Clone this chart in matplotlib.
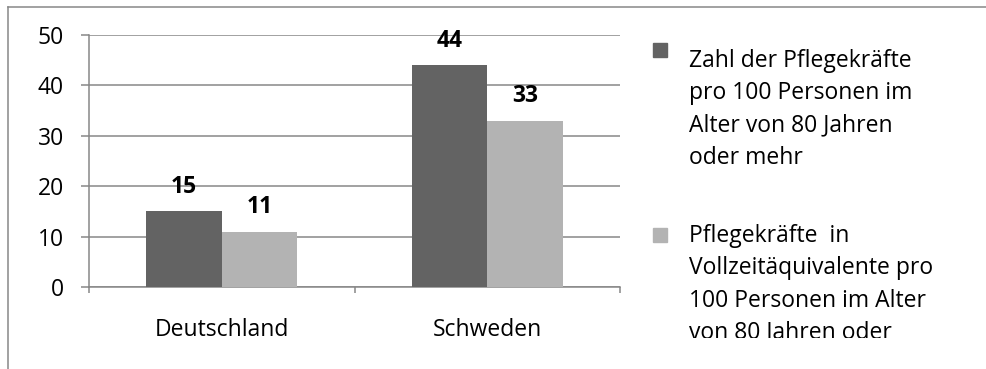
import numpy as np
import matplotlib
matplotlib.use("Agg")
import matplotlib.pyplot as plt
from matplotlib.patches import Rectangle

plt.rcParams['font.family'] = ['Open Sans', 'DejaVu Sans']

countries = ["Deutschland", "Schweden"]
pflegekraefte = [15, 44]          # Zahl der Pflegekräfte pro 100 Personen 80+
vollzeit = [11, 33]               # Pflegekräfte in Vollzeitäquivalenten
series_labels = [
    "Zahl der Pflegekräfte\npro 100 Personen im\nAlter von 80 Jahren\noder mehr",
    "Pflegekräfte  in\nVollzeitäquivalente pro\n100 Personen im Alter\nvon 80 Jahren oder\nmehr",
]
yticks = [0, 10, 20, 30, 40, 50]

dark = "#636363"
light = "#b3b3b3"
grid_col = "#878787"
fs = 16.5

W, H = 986, 369
fig = plt.figure(figsize=(W / 100, H / 100), dpi=100)

def px_axes(l, t, r, b):
    return fig.add_axes([l / W, 1 - b / H, (r - l) / W, (b - t) / H])

ax = px_axes(89, 35, 620, 287)

x = np.arange(len(countries))
w = 0.285
bars1 = ax.bar(x - w / 2, pflegekraefte, w, color=dark, zorder=3)
bars2 = ax.bar(x + w / 2, vollzeit, w, color=light, zorder=3)

for bars, vals in ((bars1, pflegekraefte), (bars2, vollzeit)):
    for b, v in zip(bars, vals):
        ax.annotate(str(v), (b.get_x() + b.get_width() / 2, v),
                    xytext=(0, 17.5), textcoords="offset points",
                    ha="center", va="center", fontsize=fs, fontweight="bold")

ax.set_xlim(-0.5, len(countries) - 0.5)
ax.set_ylim(0, 50)
ax.set_yticks(yticks)
ax.yaxis.grid(True, color=grid_col, linewidth=1.1, zorder=0)
ax.tick_params(axis="y", length=6, width=1.1, color=grid_col, pad=12,
               labelsize=fs)

ax.set_xticks(x)
ax.set_xticklabels(countries)
ax.set_xticks(np.arange(-0.5, len(countries)), minor=True)
ax.tick_params(axis="x", which="major", length=0, pad=22, labelsize=fs)
ax.tick_params(axis="x", which="minor", length=4.5, width=1.1, color=grid_col)

for s in ("top", "right"):
    ax.spines[s].set_visible(False)
for s in ("left", "bottom"):
    ax.spines[s].set_color(grid_col)
    ax.spines[s].set_linewidth(1.1)

# overlay in pixel coordinates for the frame and the legend
ov = fig.add_axes([0, 0, 1, 1], facecolor="none")
ov.set_xlim(0, W)
ov.set_ylim(H, 0)
ov.axis("off")
ov.plot([8, W], [7, 7], color=grid_col, linewidth=1.1)
ov.plot([8, 8], [7, H], color=grid_col, linewidth=1.1)

clip = Rectangle((0, 0), W, 338, transform=ov.transData, visible=False)
ov.add_patch(clip)
leg_entries = [(dark, 43, 49), (light, 228, 224)]
for (col, my, ty), label in zip(leg_entries, series_labels):
    ov.add_patch(Rectangle((653, my), 14, 14, color=col))
    t = ov.text(689, ty, label, ha="left", va="top", fontsize=fs,
                linespacing=1.46)
    t.set_clip_on(True)
    t.set_clip_path(clip)

fig.savefig("out.png", dpi=100)
